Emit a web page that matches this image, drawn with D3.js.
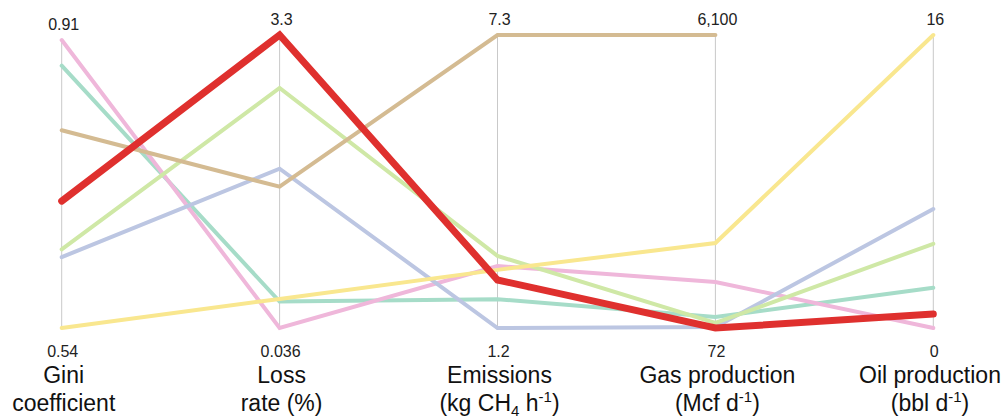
<!DOCTYPE html>
<html>
<head>
<meta charset="utf-8">
<script src="https://cdn.jsdelivr.net/npm/d3@7/dist/d3.min.js"></script>
<style>
  html, body { margin: 0; padding: 0; background: #fff; }
  svg { display: block; font-family: "Liberation Sans", Arial, sans-serif; }
</style>
</head>
<body>
<svg id="chart" width="1006" height="418"></svg>
<script>
// Dimensions of the parallel-coordinates plot
const dimensions = ["gini", "loss", "emissions", "gas", "oil"];
const dimMin = [0.54, 0.036, 1.2, 72, 0];
const dimMax = [0.91, 3.3, 7.3, 6100, 16];
const minLabels = ["0.54", "0.036", "1.2", "72", "0"];
const maxLabels = ["0.91", "3.3", "7.3", "6,100", "16"];

// One record per site: [Gini, loss rate %, kg CH4/h, Mcf/d, bbl/d]
const teal   = [0.877, 0.33, 1.80,  300, 2.2];
const pink   = [0.91,  0.036, 2.49, 1020, 0];
const blue   = [0.631, 1.81, 1.2,    92, 6.5];
const green  = [0.641, 2.71, 2.70,  175, 4.6];
const tan    = [0.794, 1.61, 7.3,  6100, null];
const yellow = [0.54,  0.36, 2.41, 1820, 16];
const red    = [0.703, 3.3,  2.20,   72, 0.76];

const seriesValues = [teal, pink, blue, green, tan, yellow, red];
const seriesColors = ["#a6dcc8", "#efb7da", "#bcc6e2", "#cfe8a6", "#d4bb92", "#f9e78f", "#df302e"];
const seriesWidths = [4, 4, 4, 4, 4, 4, 7];

const svg = d3.select("#chart");
const bottom = 328;
const axisTop = [40, 35, 35, 35, 35];

const x = d3.scalePoint().domain(dimensions).range([61.7, 933.3]);
const y = dimensions.map((d, i) =>
  d3.scaleLinear().domain([dimMin[i], dimMax[i]]).range([bottom, axisTop[i]]));

// axis lines
svg.append("g").selectAll("line")
  .data(dimensions)
  .join("line")
  .attr("x1", d => x(d)).attr("x2", d => x(d))
  .attr("y1", (d, i) => axisTop[i]).attr("y2", bottom)
  .attr("stroke", "#c9c9c9").attr("stroke-width", 1);

// polylines
const line = d3.line()
  .defined(p => p[1] != null)
  .x(p => x(p[0]))
  .y((p, i) => y[dimensions.indexOf(p[0])](p[1]));

svg.append("g").selectAll("path")
  .data(seriesValues)
  .join("path")
  .attr("d", vals => line(dimensions.map((d, i) => [d, vals[i]])))
  .attr("fill", "none")
  .attr("stroke", (d, i) => seriesColors[i])
  .attr("stroke-width", (d, i) => seriesWidths[i])
  .attr("stroke-linejoin", "miter")
  .attr("stroke-linecap", "round");

// max labels above, min labels below each axis
svg.append("g").selectAll("text")
  .data(dimensions)
  .join("text")
  .attr("x", d => x(d) + 2)
  .attr("y", (d, i) => axisTop[i] - 10)
  .attr("text-anchor", "middle")
  .attr("font-size", 16)
  .attr("fill", "#222")
  .text((d, i) => maxLabels[i]);

svg.append("g").selectAll("text")
  .data(dimensions)
  .join("text")
  .attr("x", d => x(d) + 1)
  .attr("y", 357)
  .attr("text-anchor", "middle")
  .attr("font-size", 16)
  .attr("fill", "#222")
  .text((d, i) => minLabels[i]);

// axis titles (two lines, with sub/superscripts)
const titles = [
  [[["Gini"]], [["coefficient"]]],
  [[["Loss"]], [["rate (%)"]]],
  [[["Emissions"]], [["(kg CH"], ["4", "sub"], [" h"], ["-1", "sup"], [")"]]],
  [[["Gas production"]], [["(Mcf d"], ["-1", "sup"], [")"]]],
  [[["Oil production"]], [["(bbl d"], ["-1", "sup"], [")"]]]
];
const titleG = svg.append("g").attr("font-size", 23).attr("fill", "#111").attr("text-anchor", "middle");
dimensions.forEach((d, i) => {
  const cx = Math.min(x(d) + 2, 1006 - 76);
  titles[i].forEach((parts, li) => {
    const t = titleG.append("text").attr("x", cx).attr("y", 383 + li * 28);
    parts.forEach(([s, kind]) => {
      const ts = t.append("tspan").text(s);
      if (kind === "sub") ts.attr("font-size", 15).attr("dy", 5);
      if (kind === "sup") ts.attr("font-size", 15).attr("dy", -9);
      if (!kind) ts.attr("dy", 0);
    });
    // reset baseline after shifted runs
    t.selectAll("tspan").each(function (p, k, nodes) {
      const prev = k > 0 ? parts[k - 1][1] : null;
      const cur = parts[k][1];
      let dy = 0;
      if (cur === "sub") dy = 5;
      else if (cur === "sup") dy = -9;
      if (prev === "sub") dy -= 5;
      if (prev === "sup") dy += 9;
      d3.select(this).attr("dy", dy);
    });
  });
});
</script>
</body>
</html>
